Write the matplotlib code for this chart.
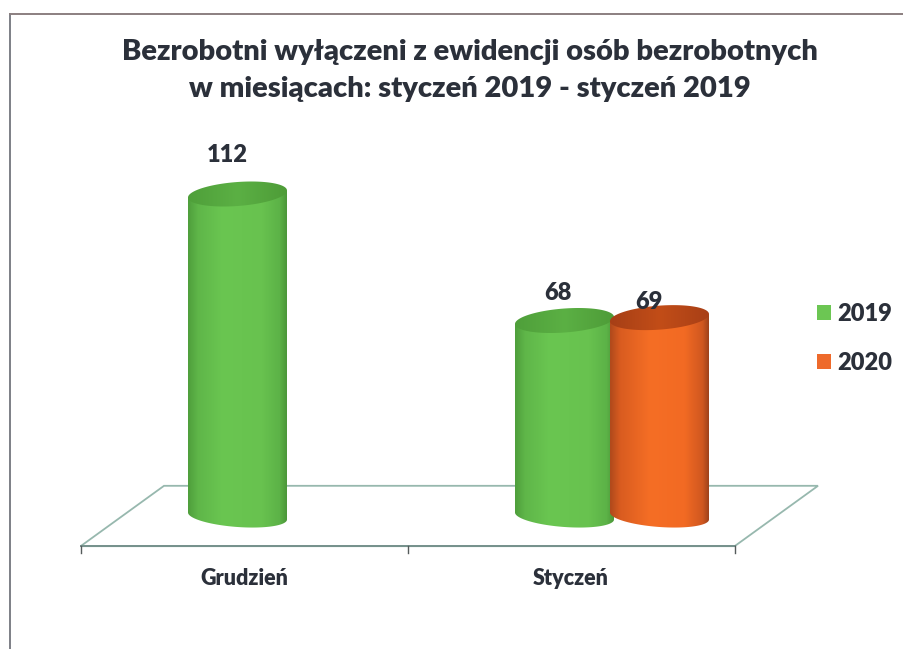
import numpy as np
import matplotlib
matplotlib.use('Agg')
import matplotlib.pyplot as plt
from matplotlib.colors import LinearSegmentedColormap
from matplotlib.patches import Patch, Polygon

kategorie = ['Grudzień', 'Styczeń']
serie = ['2019', '2020']
wartosci_2019 = [112, 68]
wartosci_2020 = [None, 69]

plt.rcParams['font.family'] = ['Lato', 'DejaVu Sans']

W, H = 904, 649
fig = plt.figure(figsize=(W / 100, H / 100), dpi=100)
ax = fig.add_axes([0, 0, 1, 1])

# skala: kategoria 0 lezy na 285 px, 327 px na kategorie, 0 na 516 px, 2.875 px na jednostke
PX_X = 327.0
PX_Y = 2.875
xlim = (-285 / PX_X, (W - 285) / PX_X)
ylim = ((516 - H) / PX_Y, 516 / PX_Y)
ax.axis('off')

szer = 49.5 / PX_X    # polowa szerokosci walca
b_gora = 12 / PX_Y    # polowa wysokosci gornej elipsy
b_dol = 11 / PX_Y     # to samo dla dolnego brzegu
skos = 3.5 / PX_Y     # pochylenie elipsy
przes = 47.5 / PX_X   # przesuniecie serii wzgledem srodka grupy

zielony = LinearSegmentedColormap.from_list('z', [(0, '#4f9f3c'), (0.1, '#5fb649'), (0.35, '#6ac651'),
                                                  (0.75, '#68c24f'), (0.93, '#5cb247'), (1, '#4c983a')])
zielony_g = LinearSegmentedColormap.from_list('zg', ['#4f9f3a', '#5bb044', '#4e9c38'])
pomar = LinearSegmentedColormap.from_list('p', [(0, '#b04a1c'), (0.1, '#d95c20'), (0.4, '#f56e25'),
                                                (0.75, '#f26a23'), (0.93, '#cf5720'), (1, '#98401b')])
pomar_g = LinearSegmentedColormap.from_list('pg', ['#a63f16', '#c24d18', '#a83f16'])

gradient = np.linspace(0, 1, 200).reshape(1, -1)


def walec(xc, wartosc, cmap, cmap_gora, z):
    t = np.linspace(0, np.pi, 80)
    # pobocznica, gorny brzeg z tylu zakryje elipsa
    dol_x = xc - szer * np.cos(t)
    dol_y = -b_dol * np.sin(t) + skos * np.cos(t)
    gora_x = xc + szer * np.cos(t)
    gora_y = wartosc + skos * np.cos(t)
    bok = Polygon(np.column_stack([np.r_[dol_x, gora_x], np.r_[dol_y, gora_y]]), closed=True,
                  fc='none', ec='none')
    ax.add_patch(bok)
    im = ax.imshow(gradient, extent=[xc - szer, xc + szer, -10, wartosc + 10], aspect='auto',
                   cmap=cmap, zorder=z, interpolation='bilinear')
    im.set_clip_path(bok)

    # gorna elipsa
    t2 = np.linspace(0, 2 * np.pi, 160)
    el_x = xc + szer * np.cos(t2)
    el_y = wartosc + b_gora * np.sin(t2) + skos * np.cos(t2)
    elipsa = Polygon(np.column_stack([el_x, el_y]), closed=True, fc='none', ec='none')
    ax.add_patch(elipsa)
    im2 = ax.imshow(gradient, extent=[xc - szer, xc + szer, wartosc - 10, wartosc + 10], aspect='auto',
                    cmap=cmap_gora, zorder=z + 0.1, interpolation='bilinear')
    im2.set_clip_path(elipsa)


# podloga wykresu
n = len(kategorie)
przod = -0.125
tyl = 0.13
gleb = 10.5
lewy = -0.5
prawy = n - 0.5
ax.add_patch(Polygon([[lewy + przod, -gleb], [prawy + przod, -gleb], [prawy + tyl, gleb], [lewy + tyl, gleb]],
                     closed=True, fc='white', ec='#97b8ae', lw=1.3, zorder=1))
ax.plot([lewy + przod, prawy + przod], [-gleb, -gleb], color='#76918c', lw=1.4, zorder=1.5)
for i in range(n + 1):
    ax.plot([lewy + przod + i] * 2, [-gleb, -gleb - 2.5], color='#555b5b', lw=1.0, zorder=1.5)

# walce
walec(0 - przes, wartosci_2019[0], zielony, zielony_g, 3)
walec(1 - przes, wartosci_2019[1], zielony, zielony_g, 3)
walec(1 + przes, wartosci_2020[1], pomar, pomar_g, 4)
ax.set_xlim(xlim)
ax.set_ylim(ylim)

# etykiety wartosci
kolor_txt = '#2b303a'
ax.text(0 - przes - 10 / PX_X, wartosci_2019[0] + 39 / PX_Y, str(wartosci_2019[0]), ha='center', va='center',
        fontsize=17, fontweight='heavy', color=kolor_txt, zorder=6)
ax.text(1 - przes - 7 / PX_X, wartosci_2019[1] + 28 / PX_Y, str(wartosci_2019[1]), ha='center', va='center',
        fontsize=17, fontweight='heavy', color=kolor_txt, zorder=6)
ax.text(1 + przes - 11 / PX_X, wartosci_2020[1] + 16 / PX_Y, str(wartosci_2020[1]), ha='center', va='center',
        fontsize=17, fontweight='heavy', color=kolor_txt, zorder=6)

# kategorie
for i, k in enumerate(kategorie):
    ax.text(i - 0.125, -21.8, k, ha='center', va='center', fontsize=15.5, fontweight='heavy', color=kolor_txt)

# tytul
fig.text(470 / W, 1 - 52 / H, 'Bezrobotni wyłączeni z ewidencji osób bezrobotnych',
         ha='center', va='center', fontsize=21, fontweight='heavy', color=kolor_txt)
fig.text(470 / W, 1 - 89 / H, 'w miesiącach: styczeń 2019 - styczeń 2019',
         ha='center', va='center', fontsize=21, fontweight='heavy', color=kolor_txt)

# legenda
uchwyty = [Patch(fc='#6cc653', ec='none', label=serie[0]), Patch(fc='#ee6a2b', ec='none', label=serie[1])]
leg = ax.legend(handles=uchwyty, loc='upper left', bbox_to_anchor=(810 / W, 1 - 296 / H), frameon=False,
                fontsize=17, handlelength=0.6, handleheight=0.6, handletextpad=0.26, labelspacing=1.15,
                borderpad=0.3, borderaxespad=0)
for t in leg.get_texts():
    t.set_fontweight('heavy')
    t.set_color(kolor_txt)

# ramka skanu
fig.add_artist(plt.Line2D([10 / W, 10 / W], [0, 1 - 14 / H], color='#7d7f86', lw=1.4))
fig.add_artist(plt.Line2D([10 / W, 1], [1 - 14 / H, 1 - 14 / H], color='#8b7f80', lw=1.4))

fig.savefig('out.png', dpi=100, facecolor='white')
